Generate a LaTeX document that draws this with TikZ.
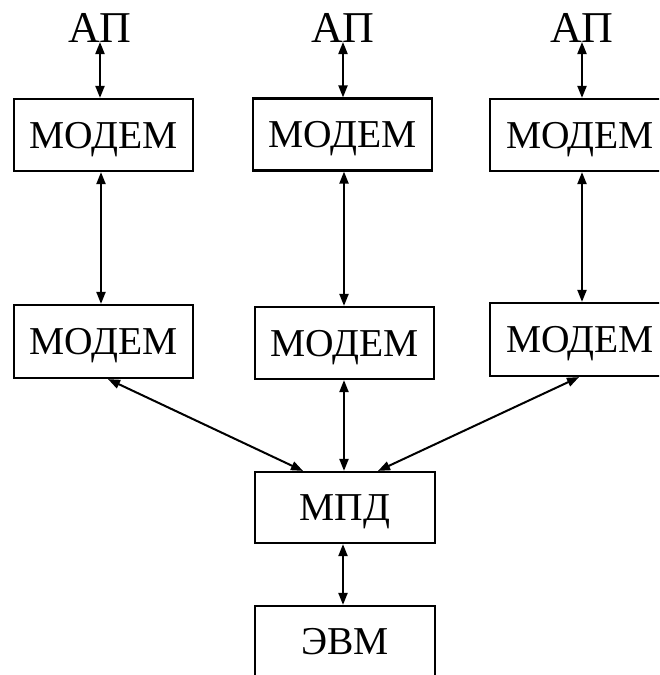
\documentclass[tikz,border=0pt]{standalone}
\usepackage{fontspec}
\setmainfont{Liberation Serif}
\usetikzlibrary{arrows.meta,calc}
\tikzset{
  box/.style={draw, line width=2.2pt, rectangle, inner sep=0pt, minimum width=179pt, minimum height=72pt, text height=26pt, text depth=0pt, font=\fontsize{39.5}{41}\selectfont},
  lbl/.style={inner sep=0pt, font=\fontsize{44}{46}\selectfont},
  arr/.style={line width=2pt, {Triangle[length=12pt,width=9pt]}-{Triangle[length=12pt,width=9pt]}}
}
\begin{document}
\begin{tikzpicture}[x=1pt,y=-1pt]
\useasboundingbox (0,0) rectangle (659,675);
\clip (0,0) rectangle (659,675);
% top AP labels
\node[lbl, anchor=base] (ap1) at (100,42) {АП};
\node[lbl, anchor=base] (ap2) at (343,42) {АП};
\node[lbl, anchor=base] (ap3) at (582,42) {АП};
% top modems
\node[box] (m1) at (103.5,135) {МОДЕМ};
\node[box] (m2) at (342.5,134.5) {МОДЕМ};
\node[box, minimum width=180pt] (m3) at (580,135) {МОДЕМ};
% second row modems
\node[box, minimum height=73pt] (r1) at (103.5,341.5) {МОДЕМ};
\node[box] (r2) at (344.5,343) {МОДЕМ};
\node[box, minimum width=180pt, minimum height=73pt] (r3) at (580,339.5) {МОДЕМ};
% MPD and EVM
\node[box, minimum width=180pt, minimum height=71pt] (mpd) at (345,507.5) {МПД};
\node[box, minimum width=180pt, minimum height=70pt] (evm) at (345,641) {ЭВМ};
% AP -- top modems
\draw[arr] (ap1.base) -- (ap1.base |- m1.north);
\draw[arr] (ap2.base) -- (ap2.base |- m2.north);
\draw[arr] (ap3.base) -- (ap3.base |- m3.north);
% top modems -- row 2
\draw[arr] ($(m1.south)+(-2.5,0)$) -- ($(r1.north)+(-2.5,0)$);
\draw[arr] ($(m2.south)+(1.5,0)$) -- ($(r2.north)+(-0.5,0)$);
\draw[arr] ($(m3.south)+(2,0)$) -- ($(r3.north)+(2,0)$);
% row 2 -- MPD
\draw[arr] ($(r1.south)+(4.5,0)$) -- ($(mpd.north)+(-42,0)$);
\draw[arr] ($(r2.south)+(-0.5,0)$) -- ($(mpd.north)+(-1,0)$);
\draw[arr] ($(r3.south)+(-1,0)$) -- ($(mpd.north)+(33,0)$);
% MPD -- EVM
\draw[arr] ($(mpd.south)+(-2,0)$) -- ($(evm.north)+(-2,0)$);
\end{tikzpicture}
\end{document}
